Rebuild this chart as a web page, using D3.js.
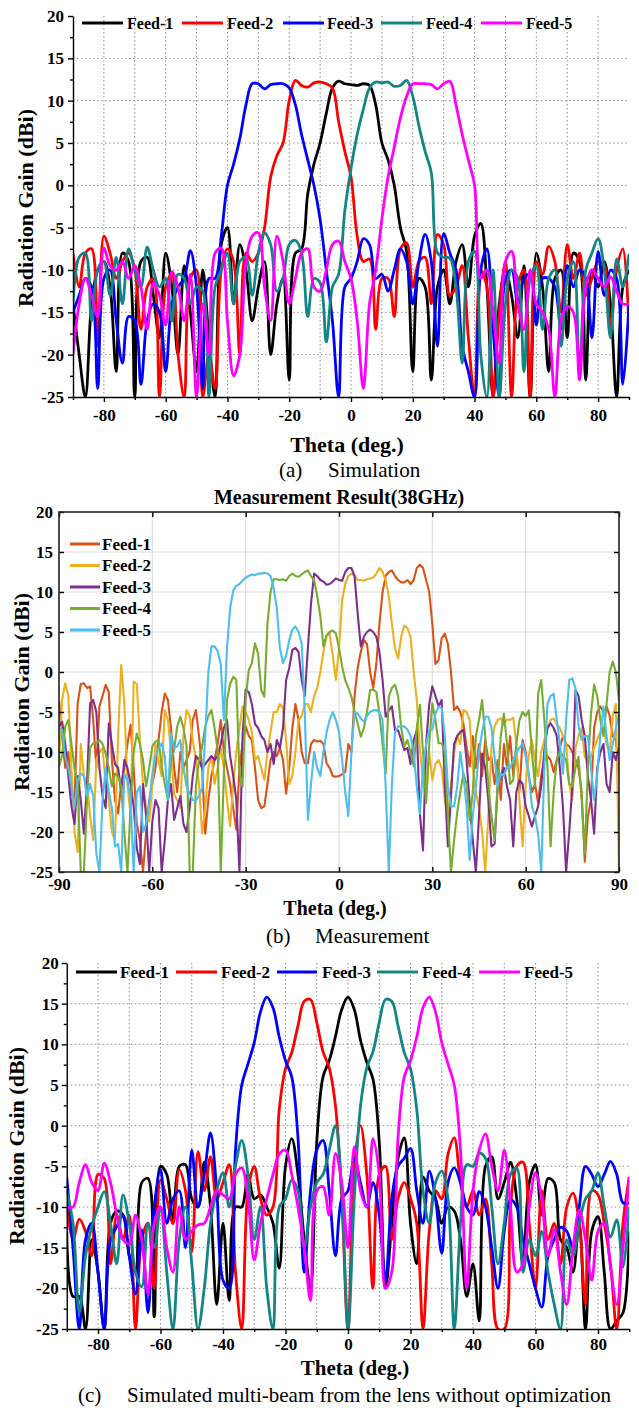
<!DOCTYPE html>
<html><head><meta charset="utf-8">
<script src="https://cdn.jsdelivr.net/npm/d3@7/dist/d3.min.js"></script>
<style>html,body{margin:0;padding:0;background:#fff}svg{display:block}</style>
</head><body>
<svg id="chart" width="639" height="1408"></svg>
<script>
const thetaSim = d3.range(-90, 91, 2);
const thetaMeas = d3.range(-90, 91, 1);
const feedNames = ["Feed-1","Feed-2","Feed-3","Feed-4","Feed-5"];
const simColors = ["#000000","#ff0000","#0000ff","#138585","#ff00ff"];
const measColors = ["#D95319","#EDB120","#7E2F8E","#77AC30","#4DBEEE"];
const simXTicks = [-80,-60,-40,-20,0,20,40,60,80];
const simXMinor = [-90,-70,-50,-30,-10,10,30,50,70,90];
const simXGrid = [-80,-70,-60,-50,-40,-30,-20,-10,0,10,20,30,40,50,60,70,80];
const yTicks = [-25,-20,-15,-10,-5,0,5,10,15,20];
const yMinor = [-22.5,-17.5,-12.5,-7.5,-2.5,2.5,7.5,12.5,17.5];
const simYGrid = [-20,-15,-10,-5,0,5,10,15];
const measXTicks = [-90,-60,-30,0,30,60,90];
const measGridX = [-60,-30,0,30,60];
const measGridY = [-20,-15,-10,-5,0,5,10,15];

// (a) Simulation, theta step 2 deg
const A1 = [-14,-20,-25,-14,-10,-9,-12,-22,-8,-9,
-25,-9,-8.5,-13,-18,-8,-12,-20,-9.5,-15,
-22,-10,-18,-25,-7,-5,-14,-7,-10,-16,
-12,-9,-20,-14,-11,-23,-8,-7.5,-1,2.5,
5,8.5,11.5,12.3,12,11.9,11.8,12,11.8,9.5,
5,3,0,-5,-7.8,-22,-11,-12,-23,-12,
-10,-14,-9,-7,-12,-6,-4.5,-12,-25,-14,
-10,-13,-18,-9.5,-25,-8,-12,-22,-11,-10,
-18,-8,-9,-23,-10,-12,-9,-14,-25,-12,
-10];
const A2 = [-8,-12,-8,-7.5,-19,-6,-8,-11,-9,-8,
-10,-17,-12,-11,-25,-12,-10.5,-20,-25,-11,
-10,-25,-20,-24,-10,-7.5,-9,-20,-8,-9,
-8,-5,1,3.5,5,10,12.4,11.8,11.6,12.1,
12.2,12,11.5,7.5,4,1,-6,-9,-8.7,-17,
-11,-11,-15.5,-7.5,-6.8,-12,-9,-8.5,-14,-5.8,
-7,-13,-12,-9.5,-18,-25,-10,-12,-25,-15,
-9,-25,-12,-10,-25,-9,-10.5,-7.2,-9,-15,
-7,-11,-8,-13,-11,-9,-9.5,-17,-10,-7.5,
-17];
const A3 = [-15,-13,-11,-12,-24,-11,-10,-16,-21,-15.5,
-16,-23.5,-16,-14,-15,-22,-14,-12,-11,-7.7,
-12,-24,-11,-11,-6,0,2.5,5.5,9.5,12,
12,11.4,11.9,12,12,11.5,9.5,6,3,0,
-4,-10,-16,-25,-12,-11,-9,-6.3,-7,-11,
-10.5,-12.5,-10,-7.5,-9,-14,-9,-5.8,-9,-19,
-5.7,-8,-10,-19,-22,-25,-10,-7.5,-17,-25,
-11,-10,-14,-11,-10.5,-16.5,-11,-11,-12,-17,
-9.5,-12,-10,-11,-18,-7.8,-13,-10,-11,-23.5,
-14];
const A4 = [-14,-8.5,-8,-16,-10,-9,-13,-8.5,-14,-7.5,
-10,-12,-7.3,-10,-12,-11,-16,-10.5,-11,-14,
-12,-12.5,-25,-12,-10,-8,-14,-9,-8.5,-13,
-8,-5.6,-7,-12.5,-11,-7,-6.5,-8,-15.5,-11,
-11.5,-18.5,-12,-10.5,-3,2,6,9,11.5,12.2,
12.1,12.2,11.7,11.8,12.4,10.5,7,4,1.5,-8,
-8.5,-8.6,-12,-21,-9,-7.8,-20,-25,-10,-25,
-14,-10,-11,-22,-11,-9.5,-17,-11,-10,-19,
-11,-9,-22,-10,-8,-6.3,-10,-18,-8.7,-12,
-8.1];
const A5 = [-20,-14,-11,-13,-15.5,-7.4,-9.5,-10,-9,-11,
-9.5,-12,-17,-11.5,-13,-16.5,-10.2,-12,-16,-10.5,
-25,-14,-20,-8,-7.4,-16,-22.5,-20,-9,-6,
-5.6,-12,-16,-6,-9,-14,-11,-8,-7.5,-12,
-12.5,-10,-7,-6.6,-9,-11,-16,-24,-14,-10,
-4,1,4.5,8,10.5,12,12,12,11.9,11.4,
12,12.3,9.5,6,3,0,-11,-10,-15,-21,
-9,-7.8,-14,-17,-10,-14,-15,-17,-25,-16,
-14.3,-15,-23,-12,-10,-11,-12,-10.8,-12.5,-14,
-14];

// (b) Measurement, theta step 1 deg
const B1 = [-3.5,-8,-12,-10,-15,-16,-3.9,-1.5,-1.4,-2,
-1.8,-6,-12,-4.3,-3,-1.6,-2.5,-11,-16,-17.7,
-14,-12,-9,-6.6,-12,-19,-21,-25,-20,-16,
-14,-12,-8.5,-5,-2.7,-3.5,-7,-12,-15,-10,
-12,-11,-10,-6,-4.75,-8,-12,-20.2,-16,-13,
-11,-9,-6,-10,-12,-14,-17,-19.7,-12,-9,
-6.8,-8,-8.5,-12,-16,-17,-16.8,-14,-11,-10,
-10.5,-9.5,-11,-15.2,-12,-7,-4,-6,-10,-11.4,
-11.4,-9,-8.5,-8.7,-8.6,-9,-11.4,-12,-13,-13.1,
-13,-12.8,-12.5,-9,-10,-3,0.5,2.5,4,3.5,
0,-2,1,6,10,12,12.5,12.7,12,11.5,
11.2,11.2,11.5,11,11.5,13,13.4,13,11.5,10,
6,1,1.5,4.2,4.8,3.5,0,-4.75,-4.3,-5,
-6.5,-9.3,-11.8,-8,-12,-9,-13,-8.5,-11,-10.6,
-14,-11,-16,-9,-12,-8,-13,-9.5,-15,-8.5,
-10,-13,-15,-14,-16.4,-13,-11,-10.5,-11,-12.5,
-11,-9.5,-8,-9,-9.3,-10,-11,-12,-15,-23.7,
-18,-16,-7,-5,-4.3,-5,-4.3,-5.5,-8,-8.5,
-12.7];
const B2 = [-11.4,-3.5,-1.4,-3,-12,-20,-22.5,-9,-13,-14,
-18,-21,-11,-10,-9.5,-14,-16,-20,-21,-8,
0.9,-4,-14,-18,-1.2,-1.5,-8.5,-14,-17,-18.7,
-14,-9,-11,-13,-4.75,-6,-10,-15.3,-16,-17,
-8,-4.75,-5.5,-8.5,-11,-14,-20.2,-17,-12,-10.5,
-14,-12,-9.5,-12,-16,-19.3,-14,-10,-7,-4.3,
-5,-6,-7.5,-11,-10.5,-12,-13.5,-10,-7.5,-5,
-5,-4,-4.5,-8.5,-14,-13,-10,-6,-5.5,-4,
-4,-5,-3,-2,0,2.5,4.5,4.8,2,-1,
3,9,11,12,12.3,12,11.5,11.5,11.4,11.6,
11.7,11.8,12.3,13,12.5,11.5,9.5,6,3,1.7,
4.4,5.8,5.5,4.4,0,-3.5,-9.75,-13.5,-16,-10,
-13.5,-11.5,-11,-12,-16,-18,-14,-10,-8,-9,
-4.75,-5,-6,-12,-15,-17,-20,-25,-18,-9.5,
-6.8,-6,-5.8,-6.6,-5.9,-6,-5.7,-9,-16,-21.8,
-14,-10.5,-8.5,-11,-13,-10,-8.5,-7,-6,-5.8,
-6.5,-7,-8,-9,-14,-16,-9.5,-8,-7,-10.6,
-11,-10.6,-9.5,-8.5,-7.5,-7,-9,-10,-5.5,-4,
-25];
const B3 = [-6.8,-6.2,-9,-13,-16.8,-19,-13,-16,-20.2,-14,
-3.9,-3.5,-5,-12,-15.5,-17,-6.4,-9,-11.5,-12,
-15,-11,-12,-14,-16.8,-22,-24,-14,-18,-25,
-18.7,-16,-17,-25,-21,-16,-14,-18.5,-17,-15.5,
-19,-20,-17,-13,-10.5,-11,-12,-11.5,-11,-10.5,
-11,-10.5,-9,-7,-6,-10.5,-13,-16,-25,-8,
-2.2,-2.5,-4,-6.5,-7,-8,-8.5,-10,-9,-11.5,
-8.5,-9.5,-7,-1,0.5,2.75,3,2.5,-1,-3,
3,8.5,12.3,12,11.5,11.3,10.9,11,11.3,11.7,
11.5,11.4,12.5,13,13,12,7.3,3.2,4.4,5,
5.3,5,4.4,2.5,-1,-5.6,-4.8,-4.3,-7.3,-7.3,
-8.5,-9.75,-9.5,-11.5,-8.5,-7.3,-17.7,-22.3,-9,-4,
-1.8,-3,-4.3,-3.5,-14,-21.8,-15.5,-9,-8,-7.5,
-7.25,-11,-16.4,-21,-25,-18,-10.2,-12,-16,-21.8,
-21.5,-14.3,-13,-12,-14.3,-16,-21.8,-15,-13.5,-14,
-16.8,-18,-19.3,-18,-16.8,-14.3,-9.8,-7,-6.4,-7,
-8,-12,-17,-25,-20,-14.3,-2.25,-3,-6,-8,
-13,-16,-20.2,-12,-10,-9,-14,-15,-10,-11,
-9.5];
const B4 = [-11.8,-10.5,-6.8,-6,-9,-12,-14,-25,-25,-16,
-9.5,-8.9,-8.9,-8.5,-9,-10.2,-12,-14.3,-12.7,-13,
-14.3,-20,-25,-16.8,-10,-7.7,-9,-11,-14.3,-12,
-9.3,-8.7,-8.5,-11.8,-14,-16,-11,-9.75,-6.8,-5.6,
-7,-9.3,-25,-25,-14.3,-11,-9.3,-6.8,-5.5,-4.75,
-7,-9.75,-25,-12.7,-3.5,-1.5,-0.6,-1,-12.7,-14.3,
-3.5,0.25,1.1,3.6,2.3,-2.25,-3.1,6,10,11.6,
11.6,11.5,11.6,11.4,12,12.3,12,11.9,12.2,12.5,
12.7,12,11.5,9.5,7,3.2,4.6,5,5.2,4.8,
3,0.7,-1,-2,-3.1,-5,-6.4,-8.1,-7,-5,
-2.25,-2.2,-2.5,-5.2,-9,-12.7,-3.1,-2,-1.6,-3,
-7,-9.3,-8.5,-10,-11.8,-7,-4.1,-10,-16.4,-9,
-3.9,-6,-8.9,-8.9,-10,-18,-25,-21,-17.5,-15,
-12.7,-14,-18.5,-15,-8,-6,-3.5,-8,-14.3,-18,
-21,-14,-8,-5.2,-9,-14,-13.5,-9,-6,-5,
-5.5,-4.8,-10,-14.3,-2.7,-1,-6,-11.8,-21.8,-15,
-11,-10,-10.5,-11,-14,-14.3,-12,-10.6,-16,-22.7,
-12,-5.2,-1.6,-3,-6,-8,-4,0,1.3,0,
-3.5];
const B5 = [-7,-7.2,-10.6,-12,-14.3,-17,-13.5,-12.7,-13,-15.6,
-14,-15.5,-22.7,-25,-16,-12,-15,-17,-21.8,-21.5,
-25,-12.7,-13.5,-16,-25,-15,-14.3,-20,-19,-16.4,
-12.7,-10.6,-9.5,-8.9,-10.6,-16,-7.7,-9.5,-9.3,-8.5,
-12,-14.3,-15.2,-16,-16,-15.5,-14.5,-8,0,3.2,
3.2,2.6,1,-6,3,8,10.2,10.8,11,11.4,
11.8,12,12.2,12.1,12.3,12.3,12.4,12.3,12,10.5,
8,3,1.1,2,4,5.3,5.7,5,3.6,-5,
-18.5,-14,-10,-12,-13,-10,-7.5,-6,-5,-6,
-7.5,-11,-15,-18,-10,-5,-5.2,-5.8,-6.2,-5.5,
-5,-4.8,-4.75,-5,-6,-14.3,-25,-14,-7.5,-6.8,
-6.8,-6.8,-7.2,-8,-10,-14.3,-17.7,-12,-9,-7.3,
-7.2,-5.2,-4.3,-4.5,-8,-14.3,-16.8,-16.8,-14.3,-10,
-13,-16.8,-23.5,-18,-14.3,-10,-7.5,-5.6,-5.6,-7,
-10.6,-14.3,-12.7,-13,-11.8,-12,-11,-10,-9.5,-8.9,
-10.5,-12.7,-16.8,-18,-20.2,-25,-12,-4,-3,-2.7,
-6,-9,-12.7,-6,-1,-0.8,-2,-6.8,-8.5,-8,
-8,-12,-16,-12.8,-8,-4.3,-8,-11,-8.9,-7,
-5.2];

// (c) Simulation without optimization, theta step 2 deg
const C1 = [-13,-21,-21,-25,-14,-18,-25,-12,-10.5,-11,
-16,-18,-7,-6.5,-23.5,-5,-6,-12,-5,-4.8,
-9,-10,-4.5,-10,-22,-12,-21.5,-10,-10,-6,
-9,-8.5,-10,-12,-17.5,-5,-1.6,-6,-14,-20,
-2,6,8,11,14.3,15.8,14.3,10.5,7.8,5.7,
-2,-20,-12,-4,-1.5,-12,-17,-6.3,-8,-9,
-12,-10,-10.5,-14,-21,-17,-24,-5,-3.8,-9,
-7,-4.5,-9,-17,-7,-4.8,-11,-6.5,-7,-14,
-15,-18,-12,-25,-13,-11.2,-18,-25,-24,-23,
-13];
const C2 = [-10,-14,-11.5,-13,-16,-6,-6.5,-17,-11,-14,
-11,-25,-14,-12,-20,-6.7,-9,-12,-5.4,-8,
-15.5,-3.2,-8,-3.8,-9,-7,-4.8,-18,-25,-8,
-5,-9,-11,-10,2,7,9,12.3,15.3,15.5,
12.7,9.1,7.1,2.4,-9,-25,-5,0,-6,-20,
-6,-5,-14,-9,-7,-8.9,-12,-25,-13,-8,
-9,-3.5,-1.5,-7,-10,-8,-11,-9,-17,-25,
-25,-10,-5,-4.5,-12,-20,-8,-14,-12,-17,
-10,-8.3,-12,-22,-8,-8.5,-12,-17,-25,-12,
-6.3];
const C3 = [-6.3,-15,-25,-14,-12,-18,-25,-14,-12.4,-11,
-16,-20.7,-12.8,-23,-10,-5.4,-12,-9,-8,-15,
-3,-10,-6,-0.9,-8,-19,-20,-3,5,7.6,
10.2,14,15.8,14.5,10.9,8,6,-1.5,-18,-8,
-3,-1.8,-8,-16,-9,-8,-4,-7,-10,-7,
-11,-19,-9,-5,-4,-2.8,-8,-12,-5.6,-9,
-15.7,-7,-5.2,-7,-10,-11,-8.1,-10,-15,-20,
-13,-9.1,-10,-14,-17,-20,-22.3,-16,-14,-12.5,
-13,-15,-10,-5,-6,-7.5,-6,-4.4,-6,-9.5,
-9.5];
const C4 = [-8,-12,-23,-16,-12.4,-10,-8.1,-12,-17,-8.5,
-12,-18,-19.8,-12,-15,-10,-18,-25,-14,-10,
-17,-25,-20,-12,-8,-5.8,-10,-5,-1.8,-6,
-14,-10,-20,-25,-10,-9,-6.7,-8,-15,-10,
-7,-6,-3,0,-8,-25,-9,2.4,7.1,9.1,
12.7,15.5,15.3,12.3,9,7,2,-8,-12,-7,
-5.6,-9,-25,-12,-4.8,-5,-3.4,-4,-10,-17,
-12,-6,-5.2,-18,-14,-16,-13,-18,-22,-25,
-14,-16,-12,-9,-8,-5.8,-10,-13.7,-11.6,-17.4,
-10];
const C5 = [-10,-10,-7,-4.8,-7,-8,-4.6,-7,-11,-14,
-14.5,-11,-14,-20.7,-12,-10,-15,-18,-10,-14,
-13,-12.2,-12,-10,-8,-8.5,-9,-6,-5.2,-9,
-16.5,-12,-9,-6,-3.5,-3,-6,-10,-15,-21.5,
-8,-7.5,-11,-3.4,-7,-15,-2.6,-8,-10,-1.6,
-6,-20,-18,-1.5,6,8,10.9,14.5,15.8,14,
10.2,7.6,5,-3,-20,-8,-3,-1,-5,-8,
-3,-10,-18,-17,-10,-5.8,-9,-16,-12.8,-18,
-22,-15,-10.4,-14,-19,-13,-12,-17.4,-22,-15,
-6.3];

const SERIF = "'Liberation Serif','Times New Roman',Times,serif";
const fmt = d => String(d);
const svg = d3.select("#chart");
const defs = svg.append("defs");

function styleAxis(a, size) {
  a.attr("font-family", SERIF).attr("font-size", size).attr("font-weight", "bold");
  a.selectAll("path,line").attr("stroke", "#000").attr("stroke-width", 1.4);
  a.selectAll("text").attr("fill", "#000");
}

function titles(p) {
  const t = svg.append("g").attr("font-family", SERIF).attr("fill", "#000");
  t.append("text").attr("x", p.xTitle[0]).attr("y", p.xTitle[1]).attr("text-anchor", "middle")
    .attr("font-size", p.xTitle[2]).attr("font-weight", "bold").text("Theta (deg.)");
  t.append("text").attr("transform", `translate(${p.yTitle[0]},${p.yTitle[1]}) rotate(-90)`)
    .attr("text-anchor", "middle").attr("dy", "0.35em")
    .attr("font-size", 22).attr("font-weight", "bold").text("Radiation Gain (dBi)");
  t.append("text").attr("x", p.cap[0]).attr("y", p.cap[2]).attr("font-size", 21).text(p.cap[3]);
  t.append("text").attr("x", p.cap[1]).attr("y", p.cap[2]).attr("font-size", 21).text(p.cap[4]);
}

function simPanel(p) {
  const x = d3.scaleLinear().domain([-90, 90]).range([p.left, p.right]);
  const y = d3.scaleLinear().domain([-25, 20]).range([p.bottom, p.top]);
  const g = svg.append("g");
  defs.append("clipPath").attr("id", "clip-" + p.id).append("rect")
    .attr("x", p.left).attr("y", p.top - 5).attr("width", p.right - p.left).attr("height", p.bottom - p.top + 5);
  const grid = g.append("g").attr("stroke", "#8c8c8c").attr("stroke-width", 1).attr("stroke-dasharray", "1.5,2.5");
  grid.selectAll("line.vx").data(simXGrid).join("line").attr("class", "vx")
    .attr("x1", d => x(d)).attr("x2", d => x(d)).attr("y1", p.top).attr("y2", p.bottom);
  grid.selectAll("line.hy").data(simYGrid).join("line").attr("class", "hy")
    .attr("x1", p.left).attr("x2", p.right).attr("y1", d => y(d)).attr("y2", d => y(d));
  const line = d3.line().x((d, i) => x(thetaSim[i])).y(d => y(d)).curve(d3.curveCatmullRom.alpha(0.5));
  g.append("g").attr("clip-path", `url(#clip-${p.id})`).selectAll("path").data(p.series).join("path")
    .attr("d", line).attr("fill", "none").attr("stroke", (d, i) => simColors[i])
    .attr("stroke-width", 2.8).attr("stroke-linejoin", "round");
  const ya = g.append("g").attr("transform", `translate(${p.left},0)`)
    .call(d3.axisLeft(y).tickValues(yTicks).tickFormat(fmt).tickSize(5).tickSizeOuter(0).tickPadding(p.yPad));
  const ym = g.append("g").attr("transform", `translate(${p.left},0)`)
    .call(d3.axisLeft(y).tickValues(yMinor).tickFormat(() => "").tickSize(3).tickSizeOuter(0))
    .call(s => s.select(".domain").remove());
  const xa = g.append("g").attr("transform", `translate(0,${p.bottom})`)
    .call(d3.axisBottom(x).tickValues(simXTicks).tickFormat(fmt).tickSize(5).tickSizeOuter(0).tickPadding(p.xPad));
  const xm = g.append("g").attr("transform", `translate(0,${p.bottom})`)
    .call(d3.axisBottom(x).tickValues(simXMinor).tickFormat(() => "").tickSize(3).tickSizeOuter(0))
    .call(s => s.select(".domain").remove());
  [ya, ym, xa, xm].forEach(a => styleAxis(a, 17));
  const lg = g.append("g").attr("font-family", SERIF).attr("font-size", p.legendFont).attr("font-weight", "bold");
  p.legend.forEach((L, i) => {
    lg.append("line").attr("x1", L[0]).attr("x2", L[1]).attr("y1", p.legendY).attr("y2", p.legendY)
      .attr("stroke", simColors[i]).attr("stroke-width", 3);
    lg.append("text").attr("x", L[2]).attr("y", p.legendY).attr("dy", "0.35em").text(feedNames[i]);
  });
  titles(p);
}

function measPanel(p) {
  const x = d3.scaleLinear().domain([-90, 90]).range([p.left, p.right]);
  const y = d3.scaleLinear().domain([-25, 20]).range([p.bottom, p.top]);
  const g = svg.append("g");
  defs.append("clipPath").attr("id", "clip-" + p.id).append("rect")
    .attr("x", p.left).attr("y", p.top).attr("width", p.right - p.left).attr("height", p.bottom - p.top);
  const grid = g.append("g").attr("stroke", "#dcdcdc").attr("stroke-width", 1.2);
  grid.selectAll("line.vx").data(measGridX).join("line").attr("class", "vx")
    .attr("x1", d => x(d)).attr("x2", d => x(d)).attr("y1", p.top).attr("y2", p.bottom);
  grid.selectAll("line.hy").data(measGridY).join("line").attr("class", "hy")
    .attr("x1", p.left).attr("x2", p.right).attr("y1", d => y(d)).attr("y2", d => y(d));
  const line = d3.line().x((d, i) => x(thetaMeas[i])).y(d => y(d));
  g.append("g").attr("clip-path", `url(#clip-${p.id})`).selectAll("path").data(p.series).join("path")
    .attr("d", line).attr("fill", "none").attr("stroke", (d, i) => measColors[i])
    .attr("stroke-width", 2.1).attr("stroke-linejoin", "round");
  const noDomain = s => s.select(".domain").remove();
  const xa = g.append("g").attr("transform", `translate(0,${p.bottom})`)
    .call(d3.axisBottom(x).tickValues(measXTicks).tickFormat(fmt).tickSize(-5).tickSizeOuter(0).tickPadding(6)).call(noDomain);
  const xt = g.append("g").attr("transform", `translate(0,${p.top})`)
    .call(d3.axisTop(x).tickValues(measXTicks).tickFormat(() => "").tickSize(-5).tickSizeOuter(0)).call(noDomain);
  const ya = g.append("g").attr("transform", `translate(${p.left},0)`)
    .call(d3.axisLeft(y).tickValues(yTicks).tickFormat(fmt).tickSize(-5).tickSizeOuter(0).tickPadding(6)).call(noDomain);
  const yr = g.append("g").attr("transform", `translate(${p.right},0)`)
    .call(d3.axisRight(y).tickValues(yTicks).tickFormat(() => "").tickSize(-5).tickSizeOuter(0)).call(noDomain);
  [xa, xt, ya, yr].forEach(a => styleAxis(a, 17));
  g.append("rect").attr("x", p.left).attr("y", p.top).attr("width", p.right - p.left).attr("height", p.bottom - p.top)
    .attr("fill", "none").attr("stroke", "#222").attr("stroke-width", 1.6);
  const lg = g.append("g").attr("font-family", SERIF).attr("font-size", 17).attr("font-weight", "bold");
  p.legendRows.forEach((ly, i) => {
    lg.append("line").attr("x1", p.legendX[0]).attr("x2", p.legendX[1]).attr("y1", ly).attr("y2", ly)
      .attr("stroke", measColors[i]).attr("stroke-width", 3);
    lg.append("text").attr("x", p.legendX[2]).attr("y", ly).attr("dy", "0.35em").text(feedNames[i]);
  });
  svg.append("text").attr("x", p.title[0]).attr("y", p.title[1]).attr("text-anchor", "middle")
    .attr("font-family", SERIF).attr("font-size", 20).attr("font-weight", "bold").text("Measurement Result(38GHz)");
  titles(p);
}

simPanel({
  id: "a", left: 73, right: 629, top: 16, bottom: 397, yPad: 4, xPad: 7,
  series: [A1, A2, A3, A4, A5],
  legendY: 23, legendFont: 16,
  legend: [[82,123,127],[182,223,227],[283,324,327],[381,422,426],[481,522,526]],
  xTitle: [347, 452, 22], yTitle: [25, 208],
  cap: [279, 328, 477, "(a)", "Simulation"]
});

measPanel({
  id: "b", left: 59, right: 619, top: 512, bottom: 872,
  series: [B1, B2, B3, B4, B5],
  legendX: [70, 100, 102], legendRows: [544, 565.5, 587, 608.5, 630],
  title: [339, 504],
  xTitle: [335, 915, 20], yTitle: [21, 692],
  cap: [266, 315, 943, "(b)", "Measurement"]
});

simPanel({
  id: "c", left: 66.75, right: 629.25, top: 963, bottom: 1329, yPad: 3, xPad: 4,
  series: [C1, C2, C3, C4, C5],
  legendY: 972, legendFont: 17,
  legend: [[76,117,120],[176,217,221],[277,317,322],[377,418,422],[479,520,524]],
  xTitle: [355, 1375, 21], yTitle: [16, 1146],
  cap: [78, 127, 1402, "(c)", "Simulated multi-beam from the lens without optimization"]
});
</script>
</body></html>
